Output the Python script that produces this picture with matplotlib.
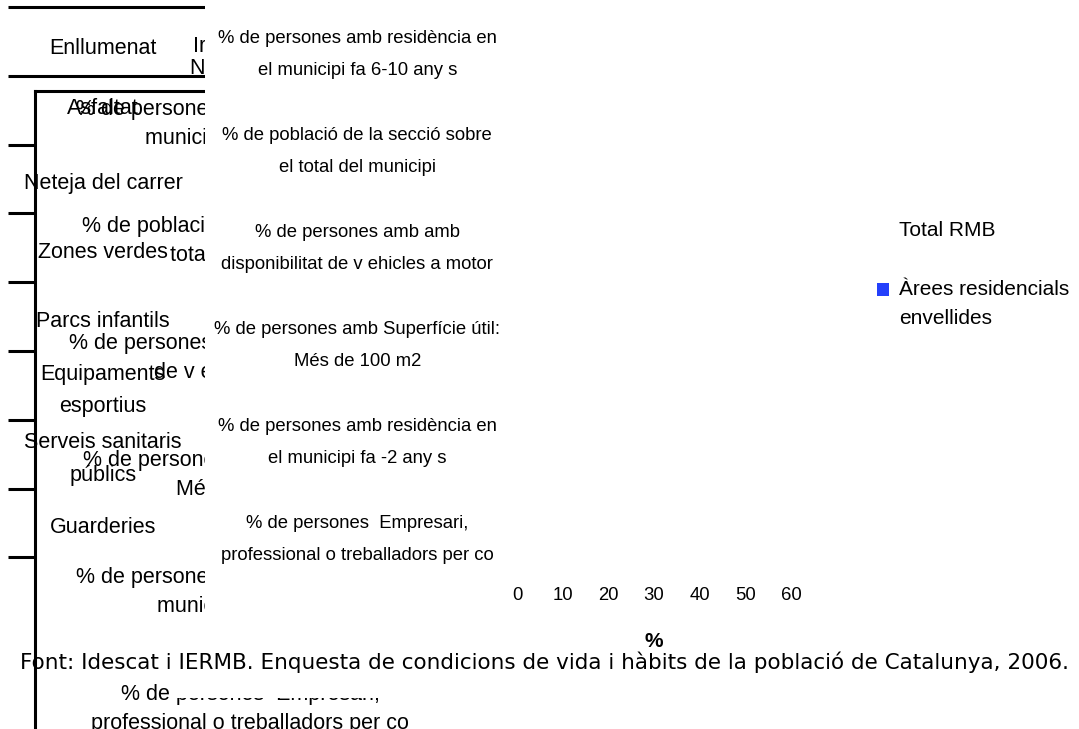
import matplotlib
matplotlib.use('Agg')
import matplotlib.pyplot as plt
from matplotlib import transforms
from matplotlib.patches import Patch, Rectangle
from matplotlib.legend_handler import HandlerPatch

plt.rcParams['font.family'] = ['Liberation Sans', 'DejaVu Sans']

W, H = 1079, 729

# serveis (capa de fons de l'esquerra)
serveis = ["Enllumenat", "Asfaltat", "Neteja del carrer", "Zones verdes",
           "Parcs infantils", "Equipaments\nesportius",
           "Serveis sanitaris\npúblics", "Guarderies"]

# indicadors del grafic principal
indicadors = [
    "% de persones amb residència en\nel municipi fa 6-10 any s",
    "% de població de la secció sobre\nel total del municipi",
    "% de persones amb amb\ndisponibilitat de v ehicles a motor",
    "% de persones amb Superfície útil:\nMés de 100 m2",
    "% de persones amb residència en\nel municipi fa -2 any s",
    "% de persones  Empresari,\nprofessional o treballadors per co",
]
# mateixos indicadors, copia ampliada que queda darrere
indicadors_fons = [
    "% de persones amb residència en el\nmunicipi fa 6-10 any s",
    "% de població de la secció sobre el\ntotal del municipi",
    "% de persones amb amb disponibilitat\nde v ehicles a motor",
    "% de persones amb Superfície útil:\nMés de 100 m2",
    "% de persones amb residència en el\nmunicipi fa -2 any s",
    "% de persones  Empresari,\nprofessional o treballadors per co",
]

series = ["Total RMB", "Àrees residencials\nenvellides"]
colors = ["white", "#2440fb"]

x_ticks = [0, 10, 20, 30, 40, 50, 60]
x_label = "%"
font_text = ("Font: Idescat i IERMB. Enquesta de condicions de vida i hàbits "
             "de la població de Catalunya, 2006.")


def rect(x0, y0, x1, y1):
    # pixels (origen a dalt a l'esquerra) -> fraccio de figura
    return [x0 / W, 1 - y1 / H, (x1 - x0) / W, (y1 - y0) / H]


fig = plt.figure(figsize=(W / 100, H / 100), dpi=100)

# --- capa de l'esquerra amb els serveis ---
ax_esq = fig.add_axes(rect(35, 91, 700, 729), zorder=1)
ax_esq.set_facecolor('none')
pas = 68.8
ax_esq.set_ylim((729 - 7) / pas, (91 - 7) / pas)
ax_esq.set_xlim(0, 1)
ax_esq.set_xticks([])
ax_esq.set_yticks(range(2, 9))
ax_esq.set_yticklabels([])
ax_esq.tick_params(axis='y', direction='out', length=19.4, width=2.2)
ax_esq.spines[['right', 'bottom']].set_visible(False)
for s in ['left', 'top']:
    ax_esq.spines[s].set_linewidth(2.2)

bl = transforms.blended_transform_factory(fig.transFigure, ax_esq.transData)
for k in (0, 1):
    ax_esq.plot([8 / W, 260 / W], [k, k], transform=bl, color='black',
                lw=2.2, clip_on=False, solid_capstyle='butt')
ajust = {"Enllumenat": 0.04, "Asfaltat": -0.1}
for i, s in enumerate(serveis):
    ax_esq.text(103 / W, i + 0.57 + ajust.get(s, 0), s, transform=bl,
                ha='center', va='center', fontsize=15.5, linespacing=1.7,
                clip_on=False)

fig.text(193 / W, 1 - 46 / H, "Ir", fontsize=15.5, va='center', zorder=1.2)
fig.text(189 / W, 1 - 68 / H, "Ne", fontsize=15.5, va='center', zorder=1.2)

# --- copia ampliada dels indicadors (queda tallada) ---
ax_fons = fig.add_axes(rect(400, 59, 700, 761), zorder=1)
ax_fons.set_facecolor('none')
ax_fons.set_ylim(len(indicadors_fons), 0)
ax_fons.set_xticks([])
ax_fons.set_yticks([i + 0.5 for i in range(len(indicadors_fons))])
ax_fons.set_yticklabels(indicadors_fons, fontsize=15.5, linespacing=1.5)
ax_fons.tick_params(axis='y', length=0, pad=108)
for t in ax_fons.get_yticklabels():
    t.set_ha('center')
for s in ax_fons.spines.values():
    s.set_visible(False)

# --- panell blanc que tapa ---
fig.add_artist(Rectangle((205 / W, 1 - 698 / H), (W - 205) / W, 698 / H,
                         transform=fig.transFigure, facecolor='white',
                         edgecolor='none', zorder=2))
fig.add_artist(Rectangle((177 / W, 1 - 698 / H), 28 / W, 48 / H,
                         transform=fig.transFigure, facecolor='white',
                         edgecolor='none', zorder=2))

# --- grafic principal ---
ax = fig.add_axes(rect(517, -3, 791, 578), zorder=3)
ax.set_facecolor('none')
ax.set_xlim(0, 60)
ax.set_xticks(x_ticks)
ax.set_xticklabels([str(v) for v in x_ticks])
ax.set_ylim(len(indicadors), 0)
ax.set_yticks([i + 0.5 for i in range(len(indicadors))])
ax.set_yticklabels(indicadors, linespacing=2.15)
ax.tick_params(axis='both', length=0, labelsize=13.3)
ax.tick_params(axis='x', pad=6.5)
ax.tick_params(axis='y', pad=115)
for t in ax.get_yticklabels():
    t.set_ha('center')
for s in ax.spines.values():
    s.set_visible(False)
ax.set_xlabel(x_label, fontsize=15, fontweight='bold', labelpad=20)


def clau_amunt(legend, orig_handle, xdescent, ydescent, width, height, fontsize):
    return Rectangle((-xdescent, -ydescent + 0.72 * fontsize), width, height)


handles = [Patch(facecolor=c, edgecolor='none') for c in colors]
ax.legend(handles, series, loc='upper left',
          bbox_to_anchor=(877 / W, 1 - 221 / H), bbox_transform=fig.transFigure,
          frameon=False, borderpad=0, borderaxespad=0, fontsize=15,
          handlelength=0.57, handleheight=0.62, handletextpad=0.5,
          labelspacing=1.93,
          handler_map={handles[1]: HandlerPatch(patch_func=clau_amunt)})
for t in ax.get_legend().get_texts():
    t.set_linespacing(1.67)

fig.text(20 / W, 1 - 662 / H, font_text, family='DejaVu Sans', fontsize=15.5,
         ha='left', va='center', zorder=4)

fig.savefig('out.png', dpi=100)
